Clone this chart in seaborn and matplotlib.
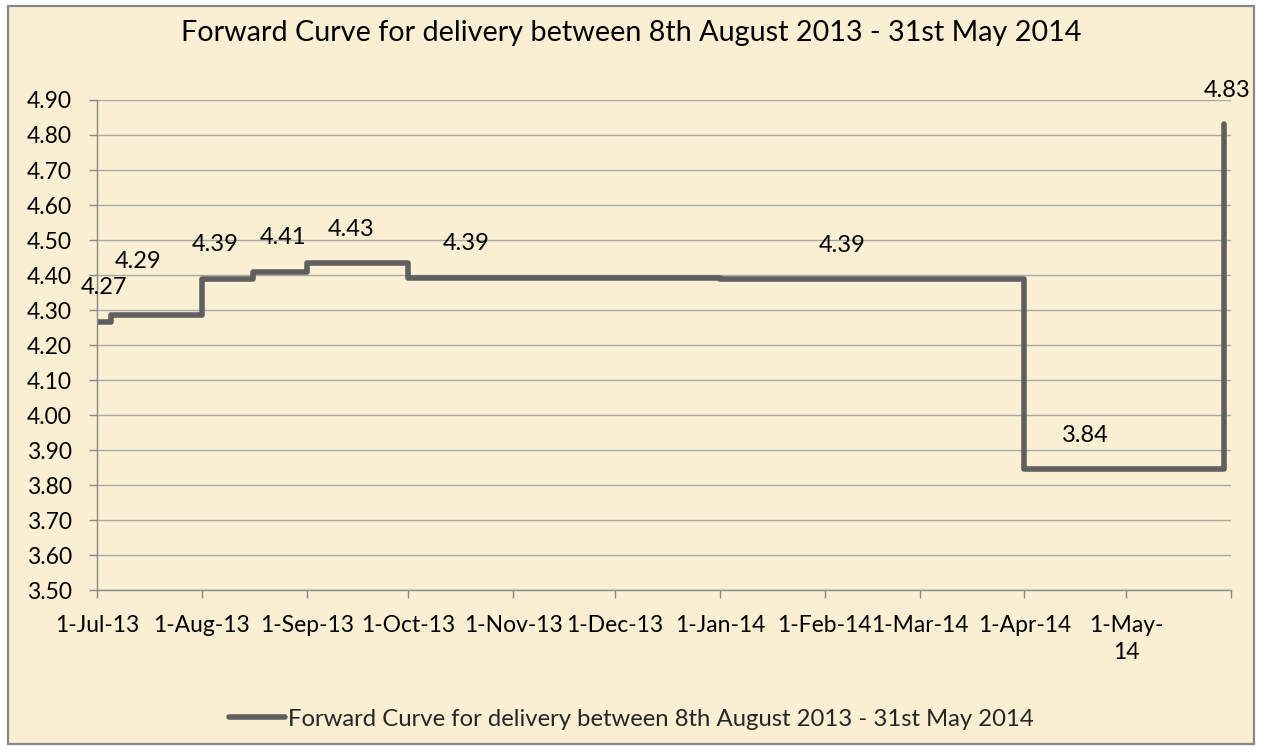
import matplotlib
matplotlib.use('Agg')
import matplotlib.pyplot as plt
from matplotlib.patches import Rectangle
import seaborn as sns
import pandas as pd
import numpy as np

# ---- data ----
title = 'Forward Curve for delivery between 8th August 2013 - 31st May 2014'

step_dates = ['2013-07-01', '2013-07-05', '2013-08-01', '2013-08-16', '2013-09-01',
              '2013-10-01', '2014-01-01', '2014-04-01', '2014-05-30']
step_values = [4.266, 4.287, 4.390, 4.410, 4.433, 4.392, 4.388, 3.845, 4.830]

label_dates = ['2013-07-03', '2013-07-13', '2013-08-05', '2013-08-25', '2013-09-14',
               '2013-10-18', '2014-02-06', '2014-04-19', '2014-05-31']
label_values = [4.266, 4.287, 4.390, 4.410, 4.433, 4.392, 4.388, 3.845, 4.830]
label_texts = ['4.27', '4.29', '4.39', '4.41', '4.43', '4.39', '4.39', '3.84', '4.83']

tick_dates = ['2013-07-01', '2013-08-01', '2013-09-01', '2013-10-01', '2013-11-01',
              '2013-12-01', '2014-01-01', '2014-02-01', '2014-03-01', '2014-04-01',
              '2014-05-01', '2014-06-01']
tick_labels = ['1-Jul-13', '1-Aug-13', '1-Sep-13', '1-Oct-13', '1-Nov-13', '1-Dec-13',
               '1-Jan-14', '1-Feb-14', '1-Mar-14', '1-Apr-14', '1-May-\n14', '']

df = pd.DataFrame({'date': pd.to_datetime(step_dates), 'price': step_values})

# ---- style ----
bg = '#FAEED3'
line_col = '#5F5F5F'
axis_col = '#888888'
sns.set_theme(style='white')
plt.rcParams['font.family'] = ['Lato', 'DejaVu Sans']

fig = plt.figure(figsize=(12.62, 7.49), dpi=100)
fig.patch.set_facecolor('white')
fig.patches.append(Rectangle((0.006, 0.007), 0.988, 0.985, transform=fig.transFigure,
                             facecolor=bg, edgecolor=axis_col, linewidth=1.6, zorder=-10))

ax = fig.add_axes([0.0769, 0.2122, 0.8985, 0.6543])
ax.set_facecolor('none')

sns.lineplot(data=df, x='date', y='price', ax=ax, color=line_col, linewidth=4.0,
             drawstyle='steps-post', solid_capstyle='round', legend=False,
             label=title)

for d, v, t in zip(label_dates, label_values, label_texts):
    dy = 38 if d == '2013-07-13' else 24.5
    ax.annotate(t, (pd.Timestamp(d), v), xytext=(0, dy), textcoords='offset points',
                ha='center', va='center', fontsize=17, color='black')

ax.set_xlim(pd.Timestamp('2013-07-01'), pd.Timestamp('2014-06-01'))
ax.set_ylim(3.5, 4.9)
ax.set_yticks(np.round(np.arange(3.5, 4.901, 0.1), 2))
ax.yaxis.set_major_formatter(matplotlib.ticker.FormatStrFormatter('%.2f'))
ax.set_xticks(pd.to_datetime(tick_dates))
ax.set_xticklabels(tick_labels, linespacing=1.35, va='top')

ax.grid(axis='y', color='#A8A8A8', linewidth=1.0)
ax.grid(axis='x', visible=False)
ax.set_axisbelow(True)
for s in ['top', 'right']:
    ax.spines[s].set_visible(False)
for s in ['left', 'bottom']:
    ax.spines[s].set_color(axis_col)
    ax.spines[s].set_linewidth(1.0)
ax.tick_params(axis='both', which='major', length=6, width=1.0, color=axis_col,
               labelsize=16.5, labelcolor='black', direction='out', bottom=True, left=True)
ax.tick_params(axis='x', pad=12)
ax.tick_params(axis='y', pad=12)
ax.set_xlabel('')
ax.set_ylabel('')

fig.text(0.5, 0.956, title, ha='center', va='center', fontsize=20.7, color='black')

handles, labels = ax.get_legend_handles_labels()
leg = fig.legend(handles, labels, loc='center', bbox_to_anchor=(0.5, 0.04), frameon=False,
                 fontsize=17.2, handlelength=2.35, handletextpad=0.12)

fig.savefig('out.png', dpi=100, facecolor=fig.get_facecolor())
